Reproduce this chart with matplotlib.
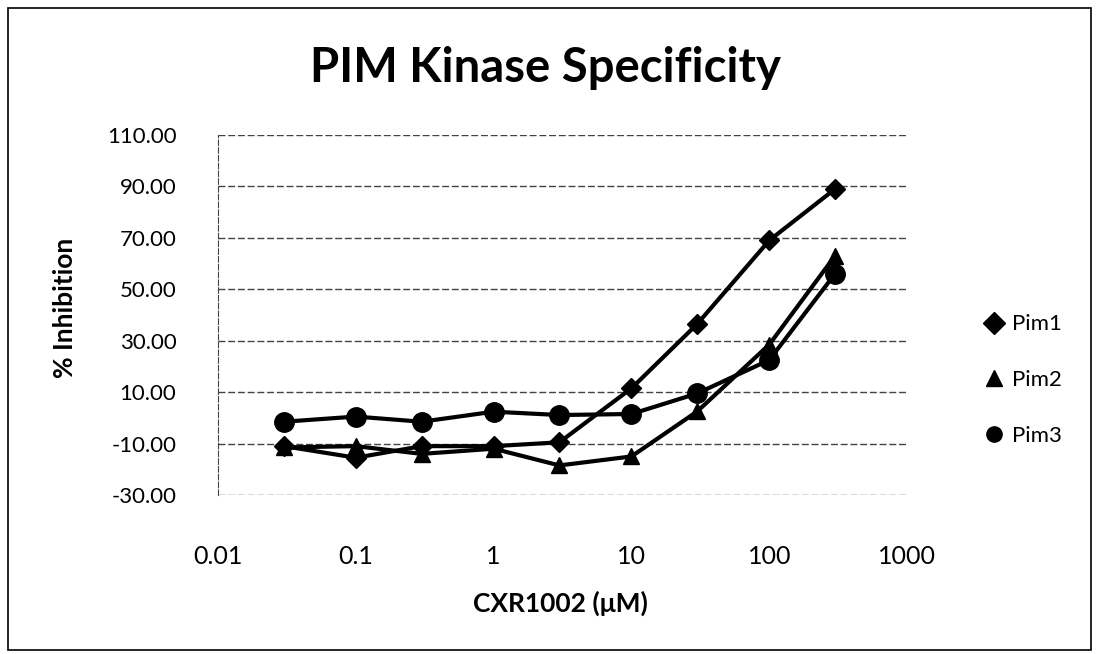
import matplotlib.pyplot as plt
import numpy as np
from matplotlib.patches import Rectangle

# concentration (uM) and % inhibition per kinase
conc = [0.03, 0.1, 0.3, 1, 3, 10, 30, 100, 300]
pim1 = [-11.0, -15.5, -11.0, -11.0, -9.5, 11.5, 36.5, 69.0, 89.0]
pim2 = [-11.5, -11.0, -14.0, -12.0, -18.5, -15.0, 2.5, 28.5, 63.0]
pim3 = [-1.5, 0.5, -1.5, 2.4, 1.1, 1.5, 9.5, 22.5, 56.0]

yticks = [-30, -10, 10, 30, 50, 70, 90, 110]
xticks = [0.01, 0.1, 1, 10, 100, 1000]
xticklabels = ["0.01", "0.1", "1", "10", "100", "1000"]

plt.rcParams['font.family'] = ['Lato', 'DejaVu Sans']

fig = plt.figure(figsize=(10.96, 6.54), dpi=100)
ax = fig.add_axes([0.199, 0.2431, 0.6286, 0.5505])

# outer frame of the chart area
fig.patches.append(Rectangle((0.007, 0.006), 0.988, 0.982, transform=fig.transFigure,
	fill=False, edgecolor="black", linewidth=1.2))

ax.plot(conc, pim1, color="black", linewidth=3, marker="D", markersize=10, label="Pim1")
ax.plot(conc, pim2, color="black", linewidth=3, marker="^", markersize=12, label="Pim2")
ax.plot(conc, pim3, color="black", linewidth=3, marker="o", markersize=14, label="Pim3")

ax.set_xscale("log")
ax.set_xlim(0.01, 1000)
ax.set_ylim(-30, 110)
ax.set_xticks(xticks)
ax.set_xticklabels(xticklabels)
ax.minorticks_off()
ax.set_yticks(yticks)
ax.set_yticklabels(["%.2f" % v for v in yticks])
ax.tick_params(axis="y", length=0, labelsize=16, pad=30)
ax.tick_params(axis="x", length=0, labelsize=18, pad=36)

ax.grid(axis="y", color="#444444", linestyle=(0, (5, 2)), linewidth=1)
for side in ["top", "right", "bottom"]:
	ax.spines[side].set_visible(False)
ax.spines["left"].set_linestyle((0, (5, 2)))
ax.spines["left"].set_color("#444444")

fig.text(0.498, 0.896, "PIM Kinase Specificity", ha="center", va="center", fontsize=34, fontweight="bold")
fig.text(0.511, 0.077, "CXR1002 (\u03bcM)", ha="center", va="center", fontsize=19, fontweight="bold")
fig.text(0.059, 0.529, "% Inhibition", ha="center", va="center", rotation=90, fontsize=19, fontweight="bold")

leg = fig.legend(loc="center left", bbox_to_anchor=(0.8816, 0.419), frameon=False, fontsize=16,
	handlelength=0.7, handletextpad=0.45, labelspacing=1.6)
for h in leg.legend_handles:
	h.set_linestyle("none")
	h.set_markersize(11)

plt.savefig("out.png", dpi=100)
